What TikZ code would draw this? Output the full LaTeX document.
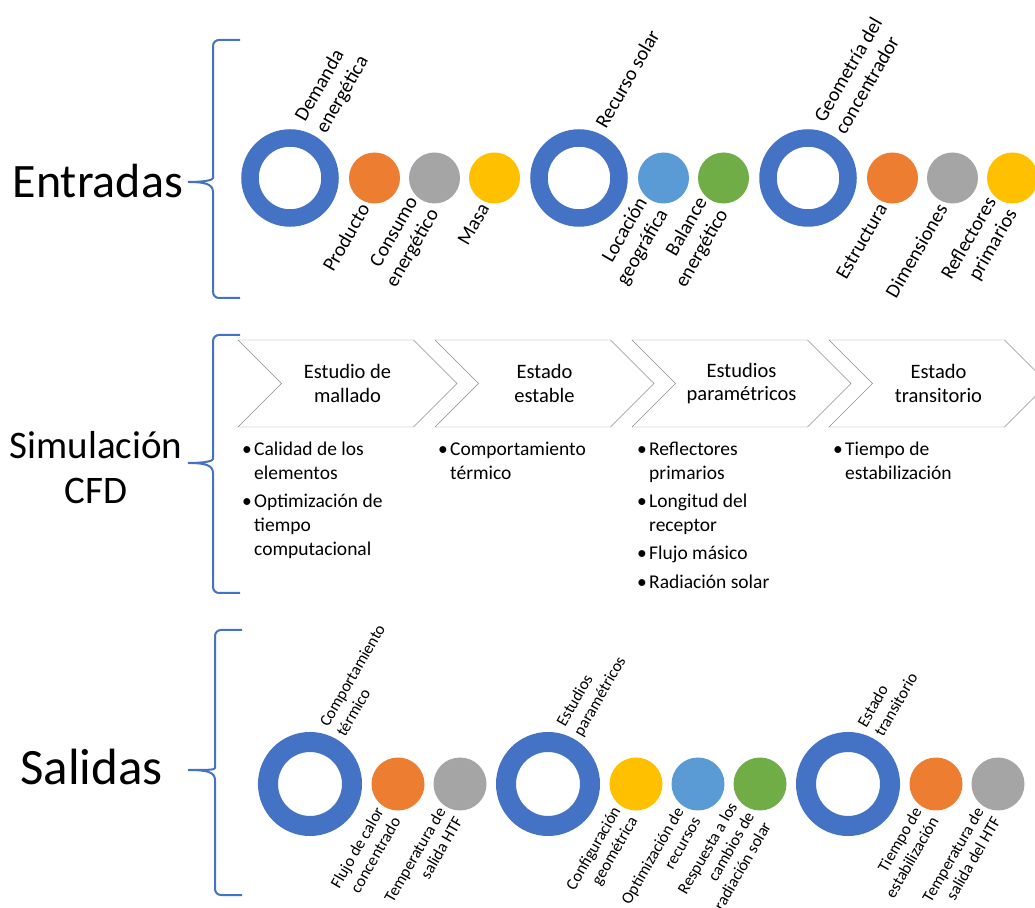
\documentclass[tikz,border=0pt]{standalone}
\usepackage{fontspec}
\setmainfont{Carlito}
\usepackage{tikz}
\usetikzlibrary{positioning,shapes.symbols}
\definecolor{ringblue}{RGB}{68,114,196}
\definecolor{dotorange}{RGB}{237,125,49}
\definecolor{dotgray}{RGB}{165,165,165}
\definecolor{dotyellow}{RGB}{255,192,0}
\definecolor{dotsky}{RGB}{91,155,213}
\definecolor{dotgreen}{RGB}{112,173,71}
\definecolor{chevgray}{RGB}{140,140,140}
\newcommand{\bul}{\makebox[12pt][l]{\textbullet}}
\newcommand{\ind}{\hspace*{12pt}}

\begin{document}
\begin{tikzpicture}[x=1pt, y=1pt,
  ring/.style={circle, draw=ringblue, line width=17.5pt, minimum size=80pt,
    inner sep=0pt, outer sep=0pt},
  dot/.style={circle, minimum size=51pt, inner sep=0pt, outer sep=0pt},
  bigring/.style={ring, line width=20pt, minimum size=84pt},
  bigdot/.style={dot, minimum size=53pt},
  toplbl/.style={rotate=60, anchor=west, align=left, inner sep=0pt,
    font=\fontsize{20}{24}\selectfont},
  botlbl/.style={rotate=60, anchor=east, align=right, inner sep=0pt,
    font=\fontsize{20}{24}\selectfont},
  toplblS/.style={toplbl, font=\fontsize{16.5}{19.5}\selectfont},
  botlblS/.style={botlbl, font=\fontsize{16.5}{19.5}\selectfont},
  chev/.style={signal, signal to=east, signal from=west, signal pointer angle=90,
    draw=chevgray, fill=white, minimum width=219pt, minimum height=87pt,
    inner sep=0pt, outer sep=0pt, align=center, font=\fontsize{20.5}{23.5}\selectfont},
  lst/.style={anchor=north west, align=left, inner sep=0pt,
    font=\fontsize{19.5}{24}\selectfont},
  brace/.style={draw=ringblue, line width=2pt},
  title/.style={inner sep=0pt}
]
\useasboundingbox (0,0) rectangle (1035,907);

% entradas
\node[title, anchor=base east, font=\fontsize{48}{58}\selectfont] (ent) at (183,709) {Entradas};
\draw[brace, rounded corners=6pt] (240,867) -- (213,867) -- (213,735)
  [sharp corners] .. controls (213,727) and (205,725) .. (188,725)
  .. controls (205,725) and (213,723) .. (213,715) [rounded corners=6pt] -- (213,609) -- (240,609);

\node[ring] (dem) at (290,729) {};
\node[dot, fill=dotorange, right=19pt of dem] (prod) {};
\node[dot, fill=dotgray, right=9pt of prod] (cons) {};
\node[dot, fill=dotyellow, right=9pt of cons] (masa) {};
\node[ring, right=19pt of masa] (rec) {};
\node[dot, fill=dotsky, right=19pt of rec] (loc) {};
\node[dot, fill=dotgreen, right=9pt of loc] (bal) {};
\node[ring, right=19pt of bal] (geo) {};
\node[dot, fill=dotorange, right=19pt of geo] (estr) {};
\node[dot, fill=dotgray, right=9pt of estr] (dim) {};
\node[dot, fill=dotyellow, right=9pt of dim] (refl) {};

\node[toplbl] (tDem) at ([shift={(68:56)}]dem.center) {Demanda\\energética};
\node[toplbl] (tRec) at ([shift={(68:56)}]rec.center) {Recurso solar};
\node[toplbl] (tGeo) at ([shift={(68:56)}]geo.center) {Geometría del\\concentrador};
\node[botlbl] (bProd) at ([shift={(-110:29)}]prod.center) {Producto};
\node[botlbl] (bCons) at ([shift={(-110:29)}]cons.center) {Consumo\\energético};
\node[botlbl] (bMasa) at ([shift={(-110:29)}]masa.center) {Masa};
\node[botlbl] (bLoc) at ([shift={(-110:29)}]loc.center) {Locación\\geográfica};
\node[botlbl] (bBal) at ([shift={(-110:29)}]bal.center) {Balance\\energético};
\node[botlbl] (bEstr) at ([shift={(-110:29)}]estr.center) {Estructura};
\node[botlbl] (bDim) at ([shift={(-110:29)}]dim.center) {Dimensiones};
\node[botlbl] (bRefl) at ([shift={(-110:29)}]refl.center) {Reflectores\\primarios};

% simulacion
\node[title, align=center, font=\fontsize{39}{45}\selectfont] (sim) at (96,439) {Simulación\\CFD};
\draw[brace, rounded corners=6pt] (240,572) -- (213,572) -- (213,454)
  [sharp corners] .. controls (213,446) and (205,444) .. (188,444)
  .. controls (205,444) and (213,442) .. (213,434) [rounded corners=6pt] -- (213,314) -- (240,314);

\node[chev] (malla) at (347.5,523.5) {Estudio de\\mallado};
\node[chev] (estab) at (544.5,523.5) {Estado\\estable};
\node[chev] (param) at (741.5,523.5) {Estudios\\paramétricos};
\node[chev] (trans) at (938.5,523.5) {Estado\\transitorio};

\node[lst] (lMalla) at (242,465) {\bul Calidad de los\\\ind elementos\\[4pt]\bul Optimización de\\\ind tiempo\\\ind computacional};
\node[lst] (lEstab) at (438,465) {\bul Comportamiento\\\ind térmico};
\node[lst] (lParam) at (637,465) {\bul Reflectores\\\ind primarios\\[4pt]\bul Longitud del\\\ind receptor\\[4pt]\bul Flujo másico\\[5pt]\bul Radiación solar};
\node[lst] (lTrans) at (833,465) {\bul Tiempo de\\\ind estabilización};

% salidas
\node[title, anchor=base east, font=\fontsize{51}{60}\selectfont] (sal) at (163,122) {Salidas};
\draw[brace, rounded corners=6pt] (242,277) -- (215,277) -- (215,145)
  [sharp corners] .. controls (215,137) and (207,137) .. (188,137)
  .. controls (207,137) and (215,135) .. (215,127) [rounded corners=6pt] -- (215,12) -- (242,12);

\node[bigring] (comp) at (310,123) {};
\node[bigdot, fill=dotorange, right=19.5pt of comp] (flujo) {};
\node[bigdot, fill=dotgray, right=9pt of flujo] (temp) {};
\node[bigring, right=19.5pt of temp] (estu) {};
\node[bigdot, fill=dotyellow, right=19.5pt of estu] (conf) {};
\node[bigdot, fill=dotsky, right=9pt of conf] (optim) {};
\node[bigdot, fill=dotgreen, right=9pt of optim] (resp) {};
\node[bigring, right=19.5pt of resp] (trn) {};
\node[bigdot, fill=dotorange, right=19.5pt of trn] (tiem) {};
\node[bigdot, fill=dotgray, right=9pt of tiem] (tsal) {};

\node[toplblS] (tComp) at ([shift={(68:58)}]comp.center) {Comportamiento\\térmico};
\node[toplblS] (tEstu) at ([shift={(68:58)}]estu.center) {Estudios\\paramétricos};
\node[toplblS] (tTrn) at ([shift={(68:58)}]trn.center) {Estado\\transitorio};
\node[botlblS] (bFlujo) at ([shift={(-109:31)}]flujo.center) {Flujo de calor\\concentrado};
\node[botlblS] (bTemp) at ([shift={(-109:31)}]temp.center) {Temperatura de\\salida HTF};
\node[botlblS] (bConf) at ([shift={(-109:31)}]conf.center) {Configuración\\geométrica};
\node[botlblS] (bOptim) at ([shift={(-109:31)}]optim.center) {Optimización de\\recursos};
\node[botlblS] (bResp) at ([shift={(-109:31)}]resp.center) {Respuesta a los\\cambios de\\radiación solar};
\node[botlblS] (bTiem) at ([shift={(-109:31)}]tiem.center) {Tiempo de\\estabilización};
\node[botlblS] (bTsal) at ([shift={(-109:31)}]tsal.center) {Temperatura de\\salida del HTF};
\end{tikzpicture}
\end{document}
